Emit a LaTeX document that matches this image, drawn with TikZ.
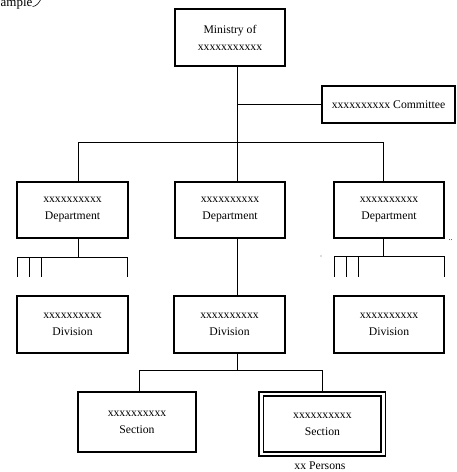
\documentclass[tikz,border=0pt]{standalone}
\usepackage{fontspec}
\setmainfont{Liberation Serif}
\begin{document}
\begin{tikzpicture}[x=1pt,y=-1pt,
  txt/.style={font=\fontsize{11.7}{17}\selectfont},
  box/.style={txt, draw, line width=1.1pt, inner sep=0pt, align=center},
  conn/.style={line width=0.9pt},
  ]
\useasboundingbox (0,0) rectangle (456,472);
\clip (0,0) rectangle (456,472);

% corner label
\node[font=\fontsize{13}{13}\selectfont, anchor=base west, inner sep=0pt] (ex) at (0.5,6.5) {ample};
\draw[line width=0.6pt] (ex.base east) .. controls (36,6.5) and (39,3) .. (41,-1);

% boxes
\node[box, minimum width=110pt, minimum height=57pt] (m) at (230,37.5) {Ministry of\\xxxxxxxxxxx};
\node[box, minimum width=133pt, minimum height=37pt] (c) at (388.5,104.5) {xxxxxxxxxx Committee};

\node[box, minimum width=111pt, minimum height=56pt] (d1) at (72.5,210) {xxxxxxxxxx\\Department};
\node[box, minimum width=110pt, minimum height=56pt] (d2) at (230,210) {xxxxxxxxxx\\Department};
\node[box, minimum width=110pt, minimum height=56pt] (d3) at (389,210) {xxxxxxxxxx\\Department};

\node[box, minimum width=111pt, minimum height=57pt] (v1) at (72.5,324.5) {xxxxxxxxxx\\Division};
\node[box, minimum width=111pt, minimum height=57pt] (v2) at (229.5,324.5) {xxxxxxxxxx\\Division};
\node[box, minimum width=110pt, minimum height=57pt] (v3) at (389,324.5) {xxxxxxxxxx\\Division};

\node[box, minimum width=118pt, minimum height=60pt] (s1) at (137,422) {xxxxxxxxxx\\Section};
\node[box, line width=1.9pt, double=white, double distance=2.2pt,
      minimum width=122pt, minimum height=60pt] (s2) at (322.4,424.3) {xxxxxxxxxx\\Section};

\node[txt, anchor=base, inner sep=0pt] (p) at (320,469.5) {xx Persons};

% connectors: trunk
\coordinate (bus) at (237,142);
\coordinate (ct) at (237,104);
\coordinate (b1) at (78,142);
\coordinate (b3) at (383,142);
\draw[conn] (m.south -| bus) -- (d2.north -| bus);
\draw[conn] (ct) -- (c.west |- ct);
\draw[conn] (b1) -- (b3);
\draw[conn] (b1) -- (d1.north -| b1);
\draw[conn] (b3) -- (d3.north -| b3);

% left department stubs
\coordinate (l0) at (78,257);
\coordinate (lt1) at (17,257);
\coordinate (lt2) at (29,257);
\coordinate (lt3) at (41,257);
\coordinate (lt4) at (127.5,257);
\draw[conn] (d1.south -| l0) -- (l0);
\draw[conn] (lt1) -- (lt4);
\foreach \t in {lt1,lt2,lt3,lt4} \draw[conn] (\t) -- ++(0,20);

% right department stubs
\coordinate (r0) at (383,256);
\coordinate (rt1) at (334,256);
\coordinate (rt2) at (346,256);
\coordinate (rt3) at (358,256);
\coordinate (rt4) at (444,256);
\draw[conn] (d3.south -| r0) -- (r0);
\draw[conn] (rt1) -- (rt4);
\foreach \t in {rt1,rt2,rt3,rt4} \draw[conn] (\t) -- ++(0,21);

% middle branch
\draw[conn] (d2.south -| bus) -- (v2.north -| bus);
\coordinate (st) at (237,370);
\coordinate (sl) at (139,370);
\coordinate (sr) at (322,370);
\draw[conn] (v2.south -| st) -- (st);
\draw[conn] (sl) -- (sr);
\draw[conn] (sl) -- (s1.north -| sl);
\draw[conn] (sr) -- ([yshift=1.8pt]s2.north -| sr);

% stray marks
\fill[black!60] (321,256) circle (0.6);
\node[font=\fontsize{8}{8}\selectfont, inner sep=0pt] (dd) at (450.5,240) {..};
\end{tikzpicture}
\end{document}
